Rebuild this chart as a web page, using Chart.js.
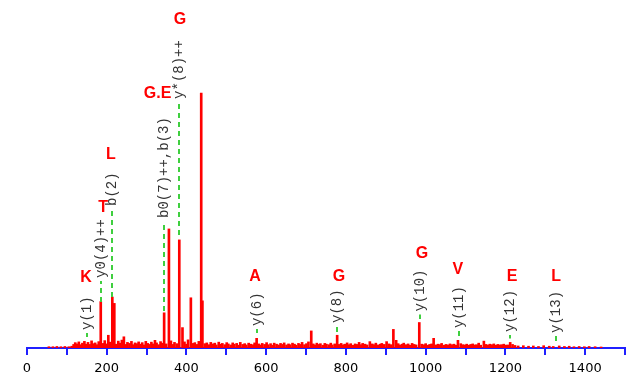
<!DOCTYPE html>
<html>
<head>
<meta charset="utf-8">
<script src="https://cdn.jsdelivr.net/npm/chart.js@4.4.1/dist/chart.umd.min.js"></script>
<style>
  body { margin: 0; background: #fff; }
  canvas { display: block; }
</style>
</head>
<body>
<canvas id="spectrum" width="641" height="377"></canvas>
<script>
// main fragment peaks (m/z, relative intensity %)
const peakMz  = [185, 204, 214, 219, 243, 321, 344, 356, 382, 390, 411, 437, 440, 576, 713, 778, 860, 902, 919, 926, 984, 1020, 1081, 1146, 1212]
const peakInt = [18.2, 5, 20, 17.5, 4.4, 3, 13.8, 46.7, 42.4, 8, 19.7, 100, 18.5, 3.8, 6.7, 5, 2.5, 2.5, 7.3, 3, 10, 3.8, 3, 2.7, 2.2]

// background noise
const noiseMz = [55, 65, 75, 85, 95, 105, 112, 117, 121, 126, 130, 135, 139, 144, 148, 153, 157, 162, 166, 171, 176, 180, 190, 195, 199,
  208, 224, 229, 233, 238, 248, 252, 257, 262, 266, 271, 275, 280, 285, 289, 294, 298, 303, 307, 312, 316, 325, 330, 335, 339,
  349, 361, 366, 370, 376, 395, 400, 404, 416, 421, 426, 431, 446, 451, 456, 461, 466, 471, 475, 481, 486, 490, 496, 501, 505,
  511, 516, 520, 526, 531, 535, 541, 546, 550, 556, 561, 566, 571, 581, 586, 590, 596, 601, 605, 611, 616, 620, 626, 631, 636,
  641, 645, 651, 656, 660, 666, 671, 675, 681, 686, 690, 696, 701, 706, 718, 722, 727, 732, 736, 742, 747, 751, 757, 762, 766,
  772, 783, 788, 793, 797, 803, 808, 812, 818, 823, 827, 833, 838, 842, 848, 853, 866, 871, 875, 881, 886, 890, 896, 908, 913,
  931, 936, 941, 945, 951, 956, 960, 966, 971, 976, 990, 995, 1000, 1005, 1010, 1015, 1026, 1031, 1036, 1040, 1046, 1051, 1056,
  1061, 1066, 1071, 1076, 1088, 1093, 1098, 1103, 1108, 1113, 1118, 1123, 1128, 1133, 1138, 1151, 1156, 1161, 1166, 1171, 1176,
  1181, 1186, 1191, 1196, 1201, 1206, 1218, 1224, 1232, 1245, 1258, 1270, 1283, 1296, 1310, 1320, 1335, 1348, 1360, 1372, 1385,
  1398, 1410, 1425, 1440]
const noiseInt = [0.5, 0.5, 0.6, 0.5, 0.6, 0.5, 0.7, 1.4, 2.1, 1.6, 2.4, 1.3, 1.9, 2.6, 1.5, 2.2, 1.4, 2.8, 1.7, 2.0, 1.3, 2.5, 1.8, 2.9, 1.6,
  2.3, 1.5, 2.7, 1.9, 3.1, 1.4, 2.2, 1.8, 2.6, 1.3, 2.0, 1.7, 2.4, 1.5, 2.1, 1.2, 2.6, 1.8, 1.4, 2.3, 1.6, 2.0, 1.3, 2.5, 1.9,
  1.6, 2.8, 1.4, 2.2, 1.7, 2.4, 1.5, 3.2, 1.8, 2.1, 1.4, 2.6, 1.7, 2.0, 1.3, 2.2, 1.6, 1.9, 1.2, 2.3, 1.5, 1.8, 1.3, 2.1, 1.6,
  1.2, 2.0, 1.5, 1.8, 1.1, 2.2, 1.4, 1.7, 1.2, 1.9, 1.5, 1.3, 2.0, 1.6, 1.2, 1.8, 1.4, 2.1, 1.3, 1.7, 1.1, 1.9, 1.5, 1.2, 1.8,
  1.4, 2.0, 1.2, 1.6, 1.3, 1.9, 1.5, 1.1, 1.8, 1.4, 2.2, 1.3, 1.7, 2.4, 1.6, 1.2, 1.9, 1.4, 1.7, 1.1, 1.8, 1.5, 1.3, 1.9, 1.2,
  1.6, 1.4, 1.8, 1.2, 1.5, 2.0, 1.3, 1.7, 1.1, 1.6, 1.4, 2.2, 1.3, 1.8, 1.5, 1.2, 1.6, 1.3, 1.9, 1.2, 1.5, 1.8, 1.4, 1.6, 1.3,
  1.7, 1.2, 1.5, 1.9, 1.3, 1.6, 1.1, 1.8, 1.4, 1.2, 1.5, 1.3, 1.7, 1.1, 1.4, 1.6, 1.2, 1.5, 1.3, 1.8, 1.1, 1.4, 1.2,
  1.6, 1.3, 1.5, 1.1, 1.7, 1.3, 1.2, 1.5, 1.1, 1.4, 1.6, 1.2, 1.3, 1.9, 1.1, 1.4, 1.2, 1.5, 1.3, 1.6, 1.1,
  1.4, 1.2, 1.3, 1.5, 1.1, 1.2, 1.4, 1.0, 0.8, 0.9, 0.7, 0.8, 0.6, 0.9, 0.7, 0.6, 0.8, 0.6, 0.7, 0.5, 0.6,
  0.5, 0.6, 0.5, 0.4]

// fragment ion annotations
const annMz     = [150.5, 186, 214, 344, 382, 577, 778, 985, 1083, 1212, 1326]
const annLabel  = ["y(1)", "y0(4)++", "b(2)", "b0(7)++,b(3)", "y*(8)++", "y(6)", "y(8)", "y(10)", "y(11)", "y(12)", "y(13)"]
const annDashLo = [4.3, 18.0, 20.0, 14.5, 44.3, 5.9, 6.3, 11.4, 4.7, 3.7, 2.7]
const annTextLo = [7.1, 27.5, 55.7, 51.0, 97.7, 8.6, 9.8, 14.3, 7.8, 6.3, 5.9]

// residue letters
const resLetter = ["K", "T", "L", "G.E", "G", "A", "G", "G", "V", "E", "L"]
const resMz     = [148, 190.7, 210.7, 327.4, 383.8, 572, 782.7, 991, 1081, 1216.8, 1327]
const resInt    = [27.6, 55.1, 75.7, 99.6, 129.0, 28.2, 28.2, 37.1, 30.8, 28.2, 28.2]

const xTicksMin = 0
const xTicksMax = 1500

function buildPoints(xs, ys){
    let pts = []
    for(let i = 0; i < xs.length; i++){
        pts.push({x: xs[i], y: ys[i]})
    }
    return pts
}

const annotatePlugin = {
    id: "annotate",
    afterDatasetsDraw(chart){
        const ctx = chart.ctx
        const xs = chart.scales.x
        const ys = chart.scales.y
        ctx.save()
        for(let i = 0; i < annMz.length; i++){
            const x = Math.round(xs.getPixelForValue(annMz[i]))
            const yLo = ys.getPixelForValue(annDashLo[i])
            const yText = ys.getPixelForValue(annTextLo[i])
            ctx.strokeStyle = "#3fcf3f"
            ctx.lineWidth = 2
            ctx.setLineDash([5, 4])
            ctx.beginPath()
            ctx.moveTo(x, yLo)
            ctx.lineTo(x, yText + 3)
            ctx.stroke()
            ctx.setLineDash([])

            ctx.save()
            ctx.translate(x, yText)
            ctx.rotate(-Math.PI / 2)
            ctx.fillStyle = "#333"
            ctx.font = "14px 'Liberation Mono'"
            ctx.textAlign = "left"
            ctx.textBaseline = "middle"
            ctx.fillText(annLabel[i], 0, 0)
            ctx.restore()
        }
        ctx.fillStyle = "#ff0000"
        ctx.font = "bold 16px 'Liberation Sans'"
        ctx.textAlign = "center"
        ctx.textBaseline = "middle"
        for(let i = 0; i < resLetter.length; i++){
            ctx.fillText(resLetter[i], xs.getPixelForValue(resMz[i]), ys.getPixelForValue(resInt[i]))
        }
        ctx.restore()
    }
}

const config = {
    type: "bar",
    data: {
        datasets: [{
            label: "noise",
            data: buildPoints(noiseMz, noiseInt),
            backgroundColor: "#ff0000",
            barThickness: 2
        }, {
            label: "peaks",
            data: buildPoints(peakMz, peakInt),
            backgroundColor: "#ff0000",
            barThickness: 2
        }]
    },
    options: {
        responsive: false,
        animation: false,
        devicePixelRatio: 1,
        layout: { padding: { left: 27, right: 16, top: 0, bottom: 0 } },
        plugins: {
            legend: { display: false },
            tooltip: { enabled: false }
        },
        scales: {
            x: {
                type: "linear",
                min: xTicksMin,
                max: xTicksMax,
                offset: false,
                stacked: true,
                afterFit: s => { s.height = 29 },
                border: { color: "#2020ff", width: 2 },
                grid: { offset: false, drawOnChartArea: false, drawTicks: true, tickLength: 7, color: "#2020ff", lineWidth: 2 },
                ticks: {
                    stepSize: 100,
                    autoSkip: false,
                    maxRotation: 0,
                    padding: 6,
                    color: "#000",
                    font: { family: "'DejaVu Sans'", size: 13 },
                    callback: v => (v % 200 === 0 && v < xTicksMax) ? String(v) : ""
                }
            },
            y: {
                display: false,
                stacked: true,
                min: 0,
                max: 136.5
            }
        }
    },
    plugins: [annotatePlugin]
}

const chart = new Chart(document.getElementById("spectrum"), config)
</script>
</body>
</html>
